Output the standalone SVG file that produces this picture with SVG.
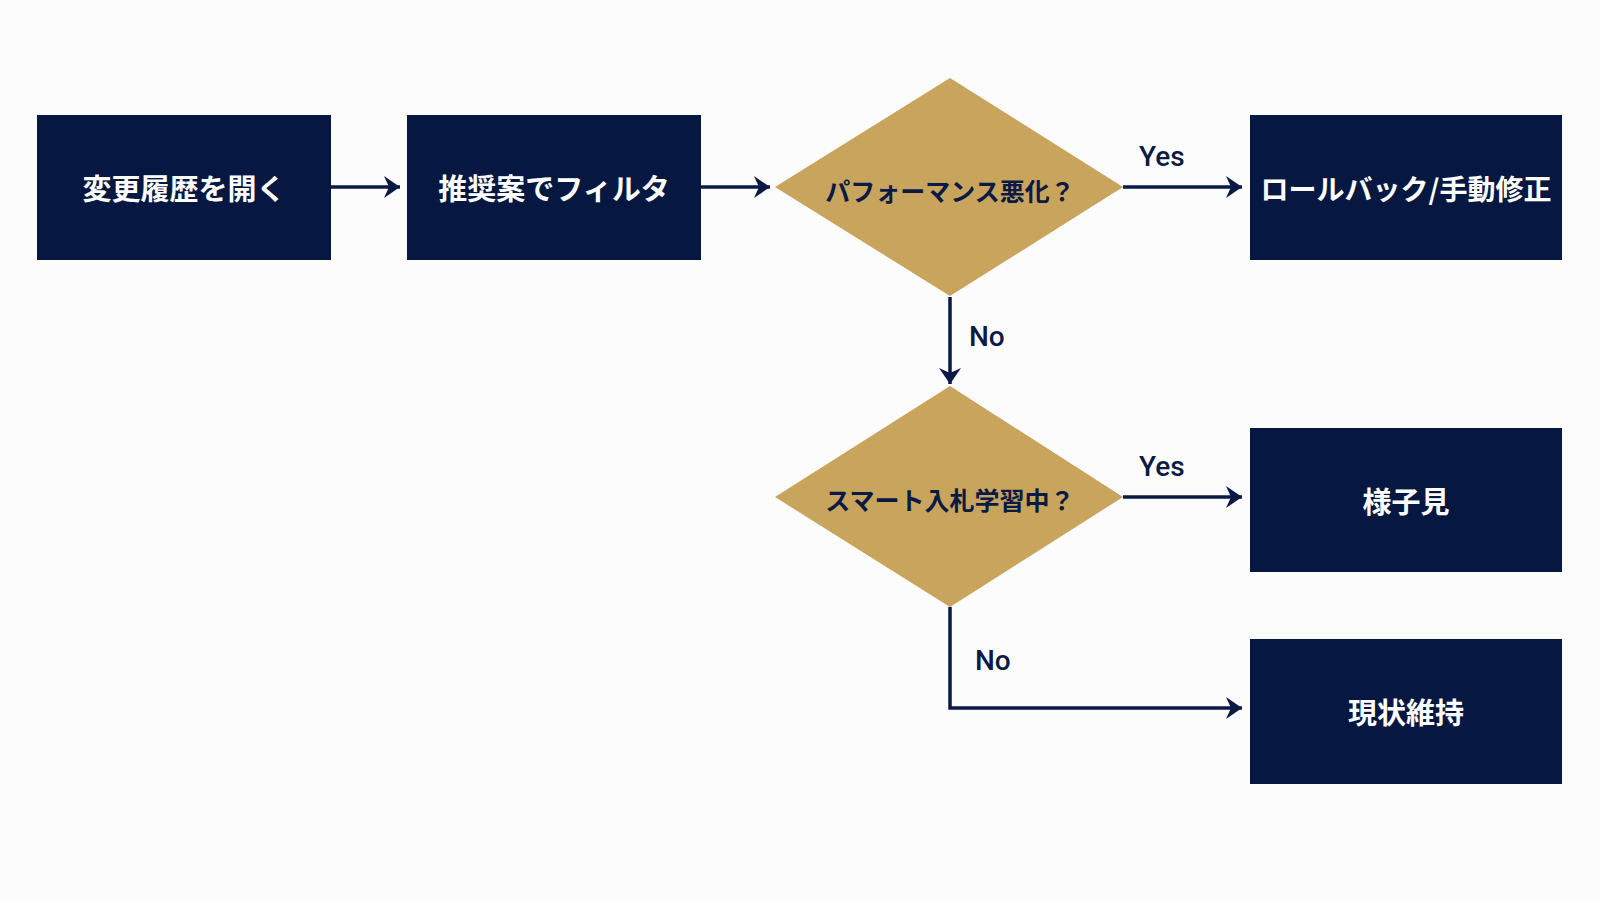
<svg xmlns="http://www.w3.org/2000/svg" width="1600" height="900" viewBox="0 0 1600 900">
<defs>
<marker id="ah" markerWidth="20" markerHeight="24" refX="17" refY="12" orient="auto" markerUnits="userSpaceOnUse">
<path d="M1,1 L17,12 L1,23 L6,12 Z" fill="#0b1a45"/>
</marker>
<style>
.box{fill:#061841;}
.dia{fill:#c8a45d;}
.bt{fill:#ffffff;font-family:"Noto Sans CJK JP","Noto Sans",sans-serif;font-weight:700;font-size:29px;text-anchor:middle;dominant-baseline:central;}
.dt{fill:#0b1a45;font-family:"Noto Sans CJK JP","Noto Sans",sans-serif;font-weight:700;font-size:25px;text-anchor:middle;dominant-baseline:central;}
.lbl{fill:#0b1a45;font-family:Roboto,"Liberation Sans",sans-serif;font-weight:500;font-size:28px;}
.conn{stroke:#0b1a45;stroke-width:3.5;fill:none;marker-end:url(#ah);}
</style>
</defs>
<rect width="1600" height="900" fill="#fcfcfc"/>
<g id="connectors">
<line class="conn" x1="331" y1="187" x2="400" y2="187"/>
<line class="conn" x1="701" y1="187" x2="770" y2="187"/>
<line class="conn" x1="1123" y1="187" x2="1242" y2="187"/>
<line class="conn" x1="950" y1="297" x2="950" y2="384"/>
<line class="conn" x1="1123" y1="497" x2="1242" y2="497"/>
<polyline class="conn" points="950,607 950,708 1242,708"/>
<text class="lbl" x="1139" y="166">Yes</text>
<text class="lbl" x="969" y="346">No</text>
<text class="lbl" x="1139" y="476">Yes</text>
<text class="lbl" x="975" y="670">No</text>
</g>
<g id="n1"><rect class="box" x="37" y="115" width="294" height="145"/><text class="bt" x="184" y="187">変更履歴を開く</text></g>
<g id="n2"><rect class="box" x="407" y="115" width="294" height="145"/><text class="bt" x="554" y="187">推奨案でフィルタ</text></g>
<g id="d1"><polygon class="dia" points="950,78 1123,187 950,296 775,187"/><text class="dt" x="950" y="190">パフォーマンス悪化？</text></g>
<g id="n3"><rect class="box" x="1250" y="115" width="312" height="145"/><text class="bt" x="1406" y="188" style="font-size:28px">ロールバック/手動修正</text></g>
<g id="d2"><polygon class="dia" points="950,386 1123,497 950,607 775,497"/><text class="dt" x="950" y="499">スマート入札学習中？</text></g>
<g id="n4"><rect class="box" x="1250" y="428" width="312" height="144"/><text class="bt" x="1406" y="500">様子見</text></g>
<g id="n5"><rect class="box" x="1250" y="639" width="312" height="145"/><text class="bt" x="1406" y="711">現状維持</text></g>
</svg>
